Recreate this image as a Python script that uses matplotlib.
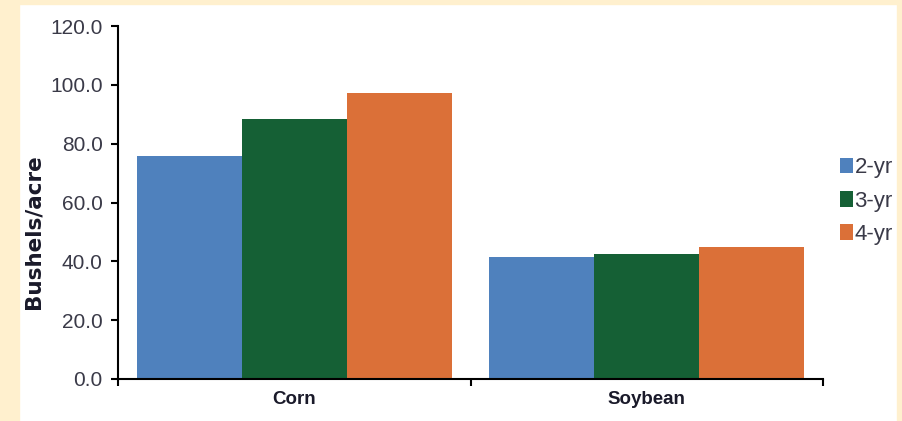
import numpy as np
import matplotlib.pyplot as plt
from matplotlib.patches import Rectangle

# yields by rotation length
crops = ['Corn', 'Soybean']
rotations = ['2-yr', '3-yr', '4-yr']
yield_2yr = [75.8, 41.4]
yield_3yr = [88.3, 42.5]
yield_4yr = [97.3, 44.8]
yticks = [0, 20, 40, 60, 80, 100, 120]

colors = ['#4F81BD', '#156035', '#DB7038']
cream = '#FFF0CE'
W, H = 902, 421

fig = plt.figure(figsize=(W / 100, H / 100), dpi=100, facecolor='white')
ax = fig.add_axes([118 / W, 1 - 379 / H, 705 / W, 353 / H])

x = np.arange(len(crops))
bw = 0.298
for k, (vals, lab) in enumerate(zip([yield_2yr, yield_3yr, yield_4yr], rotations)):
    ax.bar(x + (k - 1) * bw, vals, width=bw, color=colors[k], label=lab, zorder=2)

ax.set_xlim(-0.5, 1.5)
ax.set_ylim(0, 120)
ax.set_yticks(yticks)
ax.set_yticklabels(['%.1f' % v for v in yticks], fontsize=15,
                   family='Liberation Sans', color='#3a3a48')
ax.tick_params(axis='y', direction='out', length=5, width=1.5, pad=6)

# category names in the middle, ticks on the boundaries
ax.set_xticks(x)
ax.set_xticklabels(crops, fontsize=13.5, fontweight='bold',
                   family='Liberation Sans', color='#1a1a2a')
ax.tick_params(axis='x', which='major', length=0, pad=9)
ax.set_xticks([-0.5, 0.5, 1.5], minor=True)
ax.tick_params(axis='x', which='minor', direction='out', length=5, width=1.5)

for s in ['top', 'right']:
    ax.spines[s].set_visible(False)
for s in ['left', 'bottom']:
    ax.spines[s].set_linewidth(1.5)
    ax.spines[s].set_color('black')

fig.text(34 / W, 1 - 231.5 / H, 'Bushels/acre', rotation=90, ha='center', va='center',
         fontsize=15.5, fontweight='bold', family='DejaVu Sans', color='#1a1a2a')

leg = fig.legend(loc='center left', bbox_to_anchor=(840 / W, 1 - 201 / H),
                 bbox_transform=fig.transFigure, frameon=False,
                 prop={'family': 'Liberation Sans', 'size': 16},
                 handlelength=0.6, handleheight=0.7, handletextpad=0.05,
                 labelspacing=0.55, borderpad=0, borderaxespad=0)
for t in leg.get_texts():
    t.set_color('#3a3a48')

# cream border around the white panel
for r in [(0, 0, 19, H), (0, H - 4, W, 4), (897, 0, 5, H)]:
    fig.add_artist(Rectangle((r[0] / W, r[1] / H), r[2] / W, r[3] / H,
                             transform=fig.transFigure, color=cream, zorder=10))

fig.savefig('out.png', dpi=100, facecolor='white')
